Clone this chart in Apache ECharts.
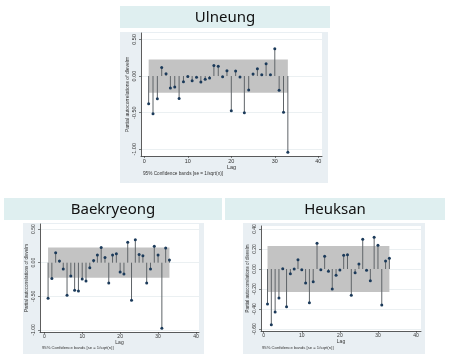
<!DOCTYPE html>
<html><head><meta charset="utf-8">
<script src="https://cdn.jsdelivr.net/npm/echarts@6/dist/echarts.min.js"></script>
<style>html,body{margin:0;padding:0;background:#fff}#c{width:450px;height:362px}</style>
</head><body><div id="c"></div>
<script>
const lags = [1,2,3,4,5,6,7,8,9,10,11,12,13,14,15,16,17,18,19,20,21,22,23,24,25,26,27,28,29,30,31,32,33];
const ulneungPac = [-0.377,-0.514,-0.309,0.118,0.032,-0.164,-0.15,-0.305,-0.077,-0.005,-0.064,-0.018,-0.082,-0.045,-0.027,0.145,0.132,-0.009,0.073,-0.473,0.068,-0.014,-0.5,-0.19,0.027,0.1,0.018,0.168,0.018,0.373,-0.195,-0.495,-1.04];
const baekryeongPac = [-0.53,-0.236,0.148,0.025,-0.094,-0.483,-0.197,-0.409,-0.419,-0.241,-0.271,-0.074,0.034,0.113,0.227,0.079,-0.3,0.113,0.133,-0.138,-0.167,0.305,-0.56,0.34,0.123,0.103,-0.3,-0.094,0.246,0.113,-0.975,0.217,0.039];
const heuksanPac = [-0.35,-0.557,-0.43,-0.29,0.003,-0.377,-0.047,0,0.093,-0.007,-0.14,-0.337,-0.127,0.257,-0.007,0.127,-0.023,-0.2,-0.063,-0.01,0.137,0.143,-0.263,-0.037,0.05,0.297,-0.013,-0.117,0.317,0.237,-0.36,0.08,0.107];
const ulneungBand = 0.227, baekryeongBand = 0.225, heuksanBand = 0.23;
const xTicks = [0,10,20,30,40];
const yTicksBig = [-1,-0.5,0,0.5];
const yTicksHeuksan = [-0.6,-0.4,-0.2,0,0.2,0.4];
const titles = ['Ulneung','Baekryeong','Heuksan'];
const yTitle = 'Partial autocorrelations of dlevelm';
const noteText = '95% Confidence bands [se = 1/sqrt(n)]';

const FONT = 'Liberation Sans';
const panels = [
  {title:titles[0], data:ulneungPac, band:ulneungBand, yTicks:yTicksBig,
   grid:{left:141,top:33,width:181,height:123}, xr:[-0.76,40.85], yr:[-1.091,0.587],
   titleBox:[120,6,210,22], bg:[120,32,208,151], note:[143,174], fs:5.5},
  {title:titles[1], data:baekryeongPac, band:baekryeongBand, yTicks:yTicksBig,
   grid:{left:40,top:224,width:159,height:108}, xr:[-1.13,40.79], yr:[-1.03,0.575],
   titleBox:[4,198,218,22], bg:[23,223,181,131], note:[42,348], fs:5},
  {title:titles[2], data:heuksanPac, band:heuksanBand, yTicks:yTicksHeuksan,
   grid:{left:261,top:226,width:160,height:105}, xr:[-0.71,41.3], yr:[-0.62,0.43],
   titleBox:[225,198,220,22], bg:[243,223,182,131], note:[262,348], fs:5}
];

const graphic = [];
panels.forEach(p => {
  graphic.push({type:'rect', z:-10, shape:{x:p.titleBox[0],y:p.titleBox[1],width:p.titleBox[2],height:p.titleBox[3]}, style:{fill:'#dfeff0'}});
  graphic.push({type:'text', z:-9, x:p.titleBox[0]+p.titleBox[2]/2, y:p.titleBox[1]+p.titleBox[3]/2+1,
    style:{text:p.title, fill:'#111', font:'15px "Noto Sans"', align:'center', verticalAlign:'middle'}});
  graphic.push({type:'rect', z:-10, shape:{x:p.bg[0],y:p.bg[1],width:p.bg[2],height:p.bg[3]}, style:{fill:'#e9eff3'}});
  graphic.push({type:'text', z:5, x:p.note[0], y:p.note[1],
    style:{text:noteText, fill:'#333', font:(p.fs-0.8)+'px "'+FONT+'"', align:'left', verticalAlign:'middle'}});
});

const grids=[], xAxes=[], yAxes=[], series=[];
panels.forEach((p,i) => {
  grids.push(Object.assign({show:true, backgroundColor:'#fff', borderWidth:0, containLabel:false, outerBoundsMode:'none'}, p.grid));
  xAxes.push({type:'value', gridIndex:i, min:p.xr[0], max:p.xr[1],
    name:'Lag', nameLocation:'middle', nameGap:7, nameTextStyle:{fontSize:p.fs, color:'#333', fontFamily:FONT},
    axisLine:{show:true, onZero:false, lineStyle:{color:'#333', width:0.8}},
    axisTick:{show:true, length:2, customValues:xTicks, lineStyle:{color:'#333', width:0.6}},
    axisLabel:{customValues:xTicks, fontSize:p.fs, color:'#333', margin:2, fontFamily:FONT},
    splitLine:{show:false}});
  yAxes.push({type:'value', gridIndex:i, min:p.yr[0], max:p.yr[1],
    name:yTitle, nameLocation:'middle', nameRotate:90, nameGap:11, nameTextStyle:{fontSize:p.fs-0.5, color:'#333', fontFamily:FONT},
    axisLine:{show:true, onZero:false, lineStyle:{color:'#333', width:0.8}},
    axisTick:{show:true, length:2, customValues:p.yTicks, lineStyle:{color:'#333', width:0.6}},
    axisLabel:{customValues:p.yTicks, rotate:90, fontSize:p.fs, color:'#333', margin:3.5, fontFamily:FONT,
      formatter:v=>v.toFixed(2)},
    splitLine:{show:false}});
  series.push({type:'custom', xAxisIndex:i, yAxisIndex:i, z:1, silent:true,
    data:[[lags[0], lags[lags.length-1], p.band]],
    renderItem:(params, api) => {
      const a = api.coord([api.value(0), api.value(2)]);
      const b = api.coord([api.value(1), -api.value(2)]);
      return {type:'rect', shape:{x:a[0], y:a[1], width:b[0]-a[0], height:b[1]-a[1]}, style:{fill:'#c3c3c3'}};
    },
    markLine:{silent:true, symbol:'none', label:{show:false}, z:0,
      lineStyle:{color:'#e6ecef', width:0.8, type:'solid'},
      data:p.yTicks.map(v=>({yAxis:v}))}
  });
  series.push({type:'custom', xAxisIndex:i, yAxisIndex:i, z:3, silent:true,
    data:lags.map((l,k)=>[l, p.data[k]]),
    renderItem:(params, api) => {
      const x = api.value(0), y = api.value(1);
      const p0 = api.coord([x,0]), p1 = api.coord([x,y]);
      return {type:'group', children:[
        {type:'line', shape:{x1:p0[0],y1:p0[1],x2:p1[0],y2:p1[1]}, style:{stroke:'#5f6468', lineWidth:1}},
        {type:'circle', shape:{cx:p1[0],cy:p1[1],r:1.5}, style:{fill:'#1b3a5a'}}
      ]};
    }
  });
});

const chart = echarts.init(document.getElementById('c'), null, {renderer:'canvas'});
chart.setOption({animation:false, backgroundColor:'#fff', graphic, grid:grids, xAxis:xAxes, yAxis:yAxes, series});
</script></body></html>
